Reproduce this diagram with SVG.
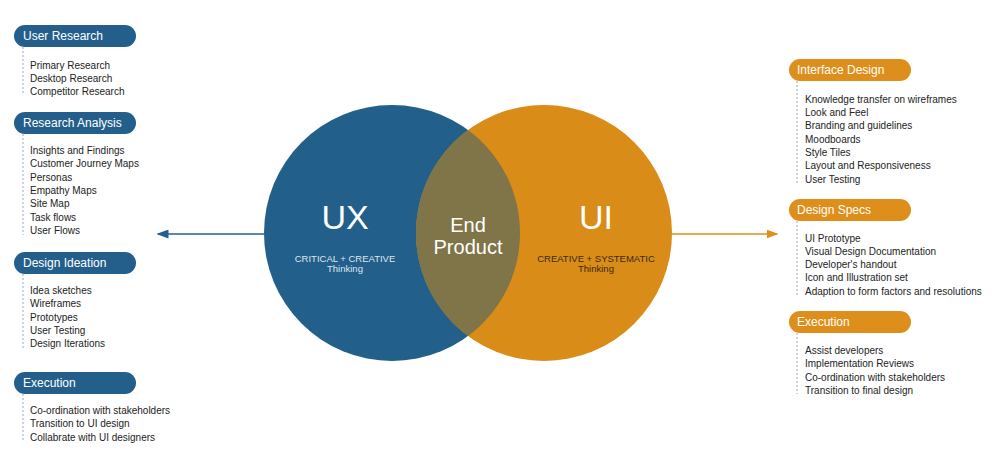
<svg xmlns="http://www.w3.org/2000/svg" width="1000" height="469" viewBox="0 0 1000 469">
<style>
.pb{fill:#245f8c}.po{fill:#de8f1b}
.pt{font-family:"Liberation Sans",Arial,sans-serif;font-size:12px;fill:#fff}
.it{font-family:"Liberation Sans",Arial,sans-serif;font-size:10px;fill:#222}
.dl{stroke:#9aa8b8;stroke-width:1;stroke-dasharray:2,2;fill:none}
.big{font-family:"Liberation Sans",Arial,sans-serif;fill:#fff;text-anchor:middle}
.sl{fill:#dde6ee}.sd{fill:#3a2a10}
</style>
<defs>
<marker id="ab" markerWidth="8" markerHeight="6" refX="7" refY="3" orient="auto"><path d="M0,0L8,3L0,6z" fill="#245f8c"/></marker>
<marker id="ao" markerWidth="8" markerHeight="6" refX="7" refY="3" orient="auto"><path d="M0,0L8,3L0,6z" fill="#de8f1b"/></marker>
</defs>
<rect width="1000" height="469" fill="#fff"/>
<g id="connectors">
<line x1="264" y1="234" x2="158" y2="234" stroke="#245f8c" stroke-width="1.5" marker-end="url(#ab)"/>
<line x1="672" y1="234" x2="777" y2="234" stroke="#de8f1b" stroke-width="1.5" marker-end="url(#ao)"/>
</g>
<g id="venn">
<circle cx="392" cy="233" r="128" fill="#235f8b"/>
<circle cx="544" cy="233" r="128" fill="#d98c17"/>
<path d="M468,130 A128,128 0 0 1 468,336 A128,128 0 0 1 468,130z" fill="#7f7548"/>
<text class="big" x="345" y="229" font-size="34">UX</text>
<text class="big sl" x="345" y="262" font-size="9.5">CRITICAL + CREATIVE</text>
<text class="big sl" x="345" y="272" font-size="9.5">Thinking</text>
<text class="big" x="468" y="232" font-size="20">End</text>
<text class="big" x="468" y="254" font-size="20">Product</text>
<text class="big" x="596" y="229" font-size="34">UI</text>
<text class="big sd" x="596" y="262" font-size="9.5">CREATIVE + SYSTEMATIC</text>
<text class="big sd" x="596" y="272" font-size="9.5">Thinking</text>
</g>
<g id="user-research">
<rect class="pb" x="14" y="25" width="122" height="22" rx="11"/>
<text class="pt" x="23" y="40">User Research</text>
<path class="dl" d="M23,47V95"/>
<text class="it" x="30" y="69">Primary Research</text>
<text class="it" x="30" y="82">Desktop Research</text>
<text class="it" x="30" y="95">Competitor Research</text>
</g>
<g id="research-analysis">
<rect class="pb" x="14" y="112" width="122" height="22" rx="11"/>
<text class="pt" x="23" y="127">Research Analysis</text>
<path class="dl" d="M23,134V235"/>
<text class="it" x="30" y="154">Insights and Findings</text>
<text class="it" x="30" y="167">Customer Journey Maps</text>
<text class="it" x="30" y="181">Personas</text>
<text class="it" x="30" y="194">Empathy Maps</text>
<text class="it" x="30" y="207">Site Map</text>
<text class="it" x="30" y="221">Task flows</text>
<text class="it" x="30" y="234">User Flows</text>
</g>
<g id="design-ideation">
<rect class="pb" x="14" y="252" width="122" height="22" rx="11"/>
<text class="pt" x="23" y="267">Design Ideation</text>
<path class="dl" d="M23,274V348"/>
<text class="it" x="30" y="294">Idea sketches</text>
<text class="it" x="30" y="307">Wireframes</text>
<text class="it" x="30" y="321">Prototypes</text>
<text class="it" x="30" y="334">User Testing</text>
<text class="it" x="30" y="347">Design Iterations</text>
</g>
<g id="execution-left">
<rect class="pb" x="14" y="372" width="122" height="22" rx="11"/>
<text class="pt" x="23" y="387">Execution</text>
<path class="dl" d="M23,394V441"/>
<text class="it" x="30" y="414">Co-ordination with stakeholders</text>
<text class="it" x="30" y="427">Transition to UI design</text>
<text class="it" x="30" y="441">Collabrate with UI designers</text>
</g>
<g id="interface-design">
<rect class="po" x="789" y="59" width="122" height="22" rx="11"/>
<text class="pt" x="797" y="74">Interface Design</text>
<path class="dl" d="M797,81V183"/>
<text class="it" x="805" y="103">Knowledge transfer on wireframes</text>
<text class="it" x="805" y="116">Look and Feel</text>
<text class="it" x="805" y="129">Branding and guidelines</text>
<text class="it" x="805" y="143">Moodboards</text>
<text class="it" x="805" y="156">Style Tiles</text>
<text class="it" x="805" y="169">Layout and Responsiveness</text>
<text class="it" x="805" y="183">User Testing</text>
</g>
<g id="design-specs">
<rect class="po" x="789" y="199" width="122" height="22" rx="11"/>
<text class="pt" x="797" y="214">Design Specs</text>
<path class="dl" d="M797,221V295"/>
<text class="it" x="805" y="242">UI Prototype</text>
<text class="it" x="805" y="255">Visual Design Documentation</text>
<text class="it" x="805" y="268">Developer's handout</text>
<text class="it" x="805" y="281">Icon and Illustration set</text>
<text class="it" x="805" y="295">Adaption to form factors and resolutions</text>
</g>
<g id="execution-right">
<rect class="po" x="789" y="311" width="122" height="22" rx="11"/>
<text class="pt" x="797" y="326">Execution</text>
<path class="dl" d="M797,333V394"/>
<text class="it" x="805" y="354">Assist developers</text>
<text class="it" x="805" y="367">Implementation Reviews</text>
<text class="it" x="805" y="381">Co-ordination with stakeholders</text>
<text class="it" x="805" y="394">Transition to final design</text>
</g>
</svg>
